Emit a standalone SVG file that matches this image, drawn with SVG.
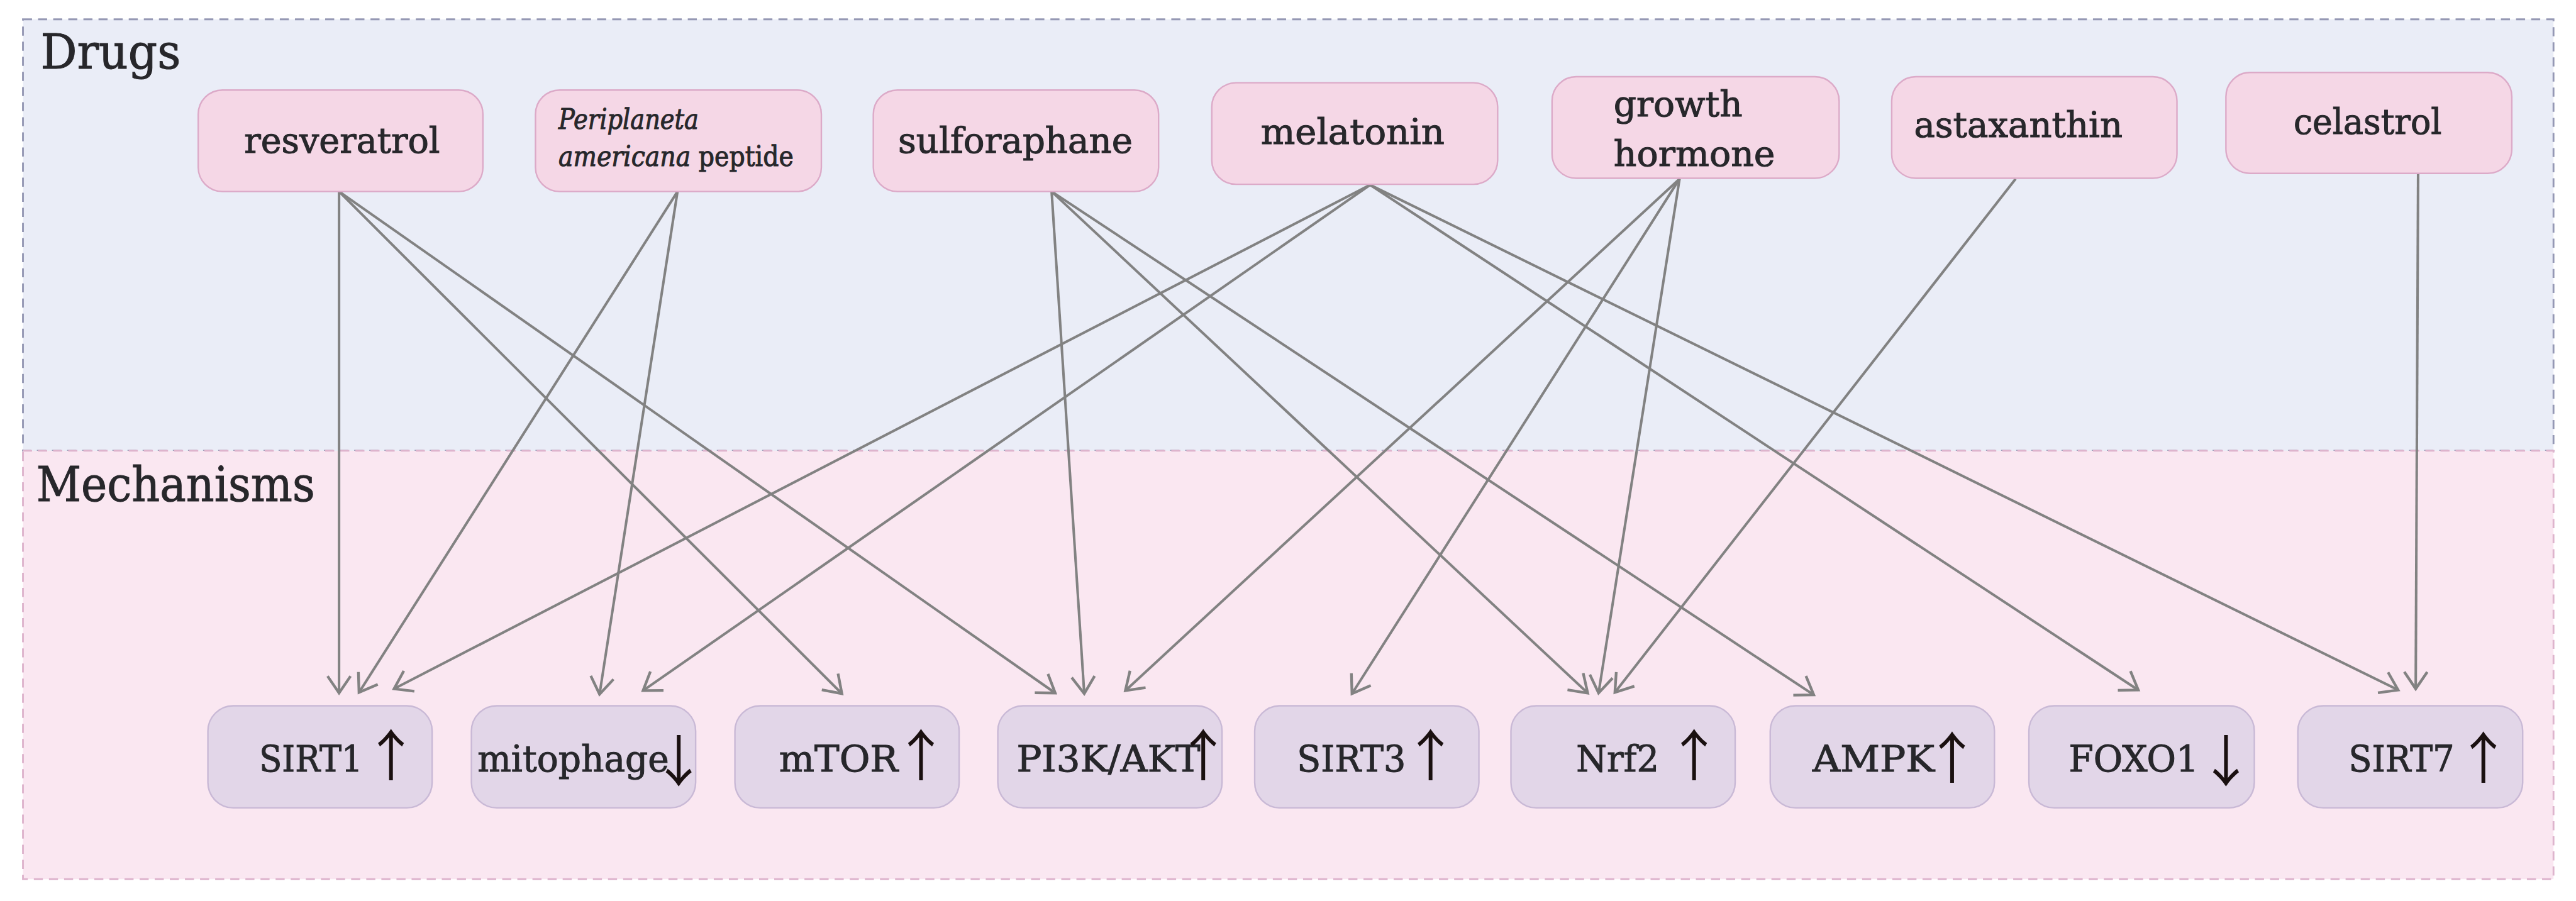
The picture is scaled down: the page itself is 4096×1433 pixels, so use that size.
<svg xmlns="http://www.w3.org/2000/svg" width="4096" height="1433" viewBox="0 0 4096 1433">
<style>
.lbl{font-family:"DejaVu Serif","Liberation Serif",serif;fill:#27272b;stroke:#27272b;stroke-width:1.1}
.sec{font-size:80px}
.drug{font-size:58px}
.small{font-size:46px}
.mech{font-size:60px}
.arr{font-family:"Noto Sans CJK SC","DejaVu Sans",sans-serif;font-size:92px;fill:#1a1010;text-anchor:middle}
.dn{fill:#f5d7e6;stroke:#dcaac8;stroke-width:2.5}
.mn{fill:#e2d6e8;stroke:#c9b9d6;stroke-width:2.5}
.edge{fill:none;stroke:#828282;stroke-width:4.2;marker-end:url(#ah)}
</style>
<defs>
<marker id="ah" markerUnits="userSpaceOnUse" markerWidth="80" markerHeight="80" refX="0" refY="0" orient="auto" overflow="visible">
<path d="M-28,-19 L0,0 L-28,19" fill="none" stroke="#828282" stroke-width="4.5"/>
</marker>
</defs>
<rect width="4096" height="1433" fill="#ffffff"/>
<g transform="scale(0.961)">
<g id="cluster-drugs">
<rect x="38" y="32" width="4187" height="714" fill="#eaedf7" stroke="#9598b4" stroke-width="3" stroke-dasharray="15 10"/>
<text class="lbl sec" x="67" y="113" textLength="232" lengthAdjust="spacingAndGlyphs">Drugs</text>
</g>
<g id="cluster-mechanisms">
<rect x="38" y="746" width="4187" height="709" fill="#fae7f1" stroke="#deb4cd" stroke-width="3" stroke-dasharray="15 10"/>
<text class="lbl sec" x="60" y="829" textLength="461" lengthAdjust="spacingAndGlyphs">Mechanisms</text>
</g>

<g id="connectors">
<path class="edge" d="M561,317 L561,1147"/>
<path class="edge" d="M561,317 L1393,1148"/>
<path class="edge" d="M561,317 L1746,1147"/>
<path class="edge" d="M1121,317 L594,1146"/>
<path class="edge" d="M1121,317 L992,1149"/>
<path class="edge" d="M1740,317 L1794,1148"/>
<path class="edge" d="M1740,317 L2627,1147"/>
<path class="edge" d="M1740,317 L3001,1150"/>
<path class="edge" d="M2267,306 L652,1140"/>
<path class="edge" d="M2267,306 L1064,1143"/>
<path class="edge" d="M2267,306 L3538,1142"/>
<path class="edge" d="M2267,306 L3968,1142"/>
<path class="edge" d="M2779,296 L1862,1143"/>
<path class="edge" d="M2779,296 L2237,1148"/>
<path class="edge" d="M2779,296 L2645,1147"/>
<path class="edge" d="M3335,296 L2672,1146"/>
<path class="edge" d="M4001,288 L3997,1140"/>
</g>

<g id="resveratrol">
<rect class="dn" x="328" y="149" width="471" height="168" rx="40"/>
<text class="lbl drug" x="404" y="253" textLength="324" lengthAdjust="spacingAndGlyphs">resveratrol</text>
</g>
<g id="periplaneta">
<rect class="dn" x="886" y="149" width="473" height="168" rx="40"/>
<text class="lbl small" x="924" y="213" font-style="italic" textLength="232" lengthAdjust="spacingAndGlyphs">Periplaneta</text>
<text class="lbl small" x="924" y="275" textLength="389" lengthAdjust="spacingAndGlyphs"><tspan font-style="italic">americana</tspan> peptide</text>
</g>
<g id="sulforaphane">
<rect class="dn" x="1445" y="149" width="472" height="168" rx="40"/>
<text class="lbl drug" x="1486" y="253" textLength="388" lengthAdjust="spacingAndGlyphs">sulforaphane</text>
</g>
<g id="melatonin">
<rect class="dn" x="2005" y="137" width="473" height="168" rx="40"/>
<text class="lbl drug" x="2086" y="238" textLength="304" lengthAdjust="spacingAndGlyphs">melatonin</text>
</g>
<g id="growth-hormone">
<rect class="dn" x="2568" y="127" width="475" height="168" rx="40"/>
<text class="lbl drug" x="2670" y="193" textLength="213" lengthAdjust="spacingAndGlyphs">growth</text>
<text class="lbl drug" x="2670" y="275" textLength="267" lengthAdjust="spacingAndGlyphs">hormone</text>
</g>
<g id="astaxanthin">
<rect class="dn" x="3130" y="127" width="472" height="168" rx="40"/>
<text class="lbl drug" x="3167" y="227" textLength="345" lengthAdjust="spacingAndGlyphs">astaxanthin</text>
</g>
<g id="celastrol">
<rect class="dn" x="3683" y="120" width="473" height="167" rx="40"/>
<text class="lbl drug" x="3795" y="222" textLength="245" lengthAdjust="spacingAndGlyphs">celastrol</text>
</g>

<g id="SIRT1">
<rect class="mn" x="344" y="1168" width="371" height="169" rx="42"/>
<text class="lbl mech" x="429" y="1277" textLength="171" lengthAdjust="spacingAndGlyphs">SIRT1</text>
<text class="arr" x="647" y="1284">↑</text>
</g>
<g id="mitophage">
<rect class="mn" x="780" y="1168" width="371" height="169" rx="42"/>
<text class="lbl mech" x="790" y="1277" textLength="317" lengthAdjust="spacingAndGlyphs">mitophage</text>
<text class="arr" x="1123" y="1293">↓</text>
</g>
<g id="mTOR">
<rect class="mn" x="1216" y="1168" width="371" height="169" rx="42"/>
<text class="lbl mech" x="1289" y="1277" textLength="197" lengthAdjust="spacingAndGlyphs">mTOR</text>
<text class="arr" x="1524" y="1284">↑</text>
</g>
<g id="PI3K-AKT">
<rect class="mn" x="1651" y="1168" width="371" height="169" rx="42"/>
<text class="lbl mech" x="1682" y="1277" textLength="304" lengthAdjust="spacingAndGlyphs">PI3K/AKT</text>
<text class="arr" x="1991" y="1284">↑</text>
</g>
<g id="SIRT3">
<rect class="mn" x="2076" y="1168" width="371" height="169" rx="42"/>
<text class="lbl mech" x="2146" y="1277" textLength="180" lengthAdjust="spacingAndGlyphs">SIRT3</text>
<text class="arr" x="2367" y="1284">↑</text>
</g>
<g id="Nrf2">
<rect class="mn" x="2500" y="1168" width="371" height="169" rx="42"/>
<text class="lbl mech" x="2608" y="1277" textLength="137" lengthAdjust="spacingAndGlyphs">Nrf2</text>
<text class="arr" x="2803" y="1284">↑</text>
</g>
<g id="AMPK">
<rect class="mn" x="2929" y="1168" width="371" height="169" rx="42"/>
<text class="lbl mech" x="2999" y="1277" textLength="202" lengthAdjust="spacingAndGlyphs">AMPK</text>
<text class="arr" x="3230" y="1288">↑</text>
</g>
<g id="FOXO1">
<rect class="mn" x="3357" y="1168" width="373" height="169" rx="42"/>
<text class="lbl mech" x="3423" y="1277" textLength="215" lengthAdjust="spacingAndGlyphs">FOXO1</text>
<text class="arr" x="3683" y="1293">↓</text>
</g>
<g id="SIRT7">
<rect class="mn" x="3802" y="1168" width="372" height="169" rx="42"/>
<text class="lbl mech" x="3886" y="1277" textLength="175" lengthAdjust="spacingAndGlyphs">SIRT7</text>
<text class="arr" x="4109" y="1288">↑</text>
</g>
</g>
</svg>
